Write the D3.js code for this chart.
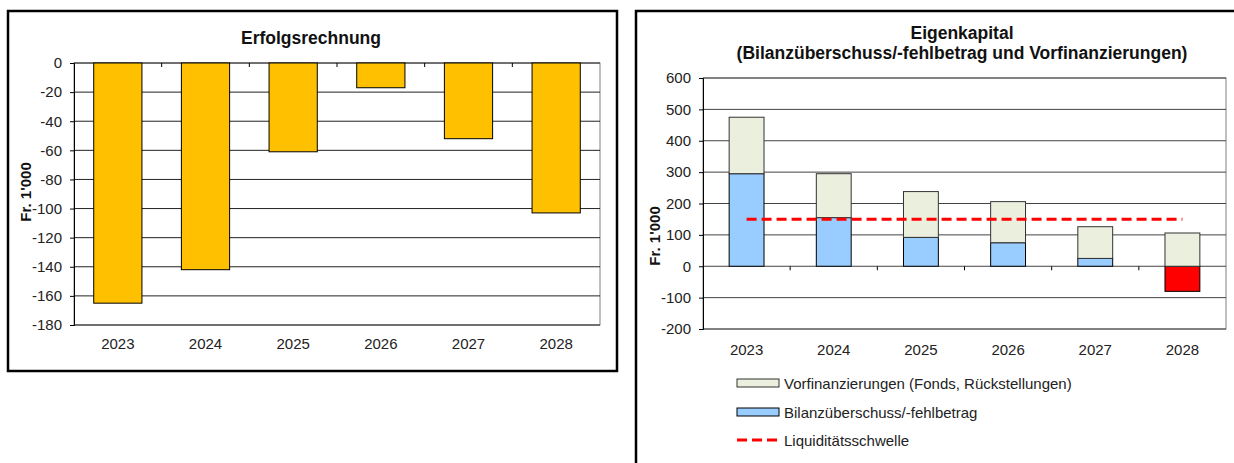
<!DOCTYPE html>
<html><head><meta charset="utf-8">
<script src="https://cdn.jsdelivr.net/npm/d3@7"></script>
<style>body{margin:0;background:#fff;} svg{display:block;font-family:"Liberation Sans",Arial,sans-serif;}</style>
</head><body>
<svg id="c" width="1234" height="463"></svg>
<script>
const years = ["2023","2024","2025","2026","2027","2028"];
const erfolg = [-165,-142,-61,-17,-52,-103];
const erfolgTicks = [0,-20,-40,-60,-80,-100,-120,-140,-160,-180];
const bilanz = [295,155,92,75,25,-80];
const vorfin = [180,140,146,131,101,106];
const schwelle = [150,150,150,150,150,150];
const ekTicks = [600,500,400,300,200,100,0,-100,-200];
const legendLabels = ["Vorfinanzierungen (Fonds, Rückstellungen)","Bilanzüberschuss/-fehlbetrag","Liquiditätsschwelle"];

const svg = d3.select("#c");
const FS = 15, TFS = 17.5;
const fmt = d => String(d);

svg.append("rect").attr("x",8).attr("y",11).attr("width",609).attr("height",360)
  .attr("fill","none").attr("stroke","#000").attr("stroke-width",2.5);
svg.append("rect").attr("x",636).attr("y",11).attr("width",700).attr("height",500)
  .attr("fill","none").attr("stroke","#000").attr("stroke-width",2.5);

// ---------- Left chart ----------
{
  const L=74,R=600,T=63,B=325;
  const x = d3.scaleBand().domain(years).range([L,R]).paddingInner(0.45).paddingOuter(0.225);
  const y = d3.scaleLinear().domain([0,-180]).range([T,B]);
  const g = svg.append("g");
  g.append("rect").attr("x",L).attr("y",T).attr("width",R-L).attr("height",B-T).attr("fill","none").attr("stroke","#808080");
  g.selectAll("line.grid").data(erfolgTicks).join("line").attr("x1",L).attr("x2",R)
    .attr("y1",d=>y(d)).attr("y2",d=>y(d)).attr("stroke","#222").attr("stroke-width",1);
  g.selectAll("rect.bar").data(erfolg).join("rect")
    .attr("x",(d,i)=>x(years[i])).attr("width",x.bandwidth())
    .attr("y",y(0)).attr("height",d=>y(d)-y(0))
    .attr("fill","#FFC000").attr("stroke","#000").attr("stroke-width",1);
  const ya = d3.axisLeft(y).tickValues(erfolgTicks).tickFormat(fmt).tickSize(4).tickPadding(8);
  const yg = g.append("g").attr("transform",`translate(${L},0)`).call(ya);
  yg.select(".domain").attr("stroke","#000");
  yg.selectAll("text").attr("font-size",FS).attr("fill","#222").attr("font-family","Liberation Sans, Arial, sans-serif");
  const step = x.step();
  g.selectAll("line.ct").data(d3.range(1,6)).join("line")
    .attr("x1",d=>L+d*step).attr("x2",d=>L+d*step).attr("y1",y(0)).attr("y2",y(0)+4).attr("stroke","#000");
  g.selectAll("text.xl").data(years).join("text")
    .attr("x",d=>x(d)+x.bandwidth()/2).attr("y",349).attr("text-anchor","middle")
    .attr("font-size",FS).attr("fill","#222").text(d=>d);
  g.append("text").attr("x",311).attr("y",44).attr("text-anchor","middle")
    .attr("font-size",TFS).attr("font-weight","bold").attr("fill","#111").text("Erfolgsrechnung");
  g.append("text").attr("transform",`translate(31,${192}) rotate(-90)`).attr("text-anchor","middle")
    .attr("font-size",FS).attr("font-weight","bold").attr("fill","#111").text("Fr. 1'000");
}

// ---------- Right chart ----------
{
  const L=703,R=1226,T=78,B=329;
  const x = d3.scaleBand().domain(years).range([L,R]).paddingInner(0.6).paddingOuter(0.3);
  const y = d3.scaleLinear().domain([600,-200]).range([T,B]);
  const g = svg.append("g");
  g.append("rect").attr("x",L).attr("y",T).attr("width",R-L).attr("height",B-T).attr("fill","none").attr("stroke","#808080");
  g.selectAll("line.grid").data(ekTicks).join("line").attr("x1",L).attr("x2",R)
    .attr("y1",d=>y(d)).attr("y2",d=>y(d)).attr("stroke","#444").attr("stroke-width",1);
  g.selectAll("rect.bil").data(bilanz).join("rect")
    .attr("x",(d,i)=>x(years[i])).attr("width",x.bandwidth())
    .attr("y",d=>y(Math.max(0,d))).attr("height",d=>Math.abs(y(d)-y(0)))
    .attr("fill",d=>d<0?"#FF0000":"#99CCFF").attr("stroke","#000").attr("stroke-width",1);
  g.selectAll("rect.vf").data(vorfin).join("rect")
    .attr("x",(d,i)=>x(years[i])).attr("width",x.bandwidth())
    .attr("y",(d,i)=>y(Math.max(0,bilanz[i])+d)).attr("height",(d,i)=>y(Math.max(0,bilanz[i]))-y(Math.max(0,bilanz[i])+d))
    .attr("fill","#EBEFDE").attr("stroke","#333").attr("stroke-width",1);
  const line = d3.line().x((d,i)=>x(years[i])+x.bandwidth()/2).y(d=>y(d));
  g.append("path").attr("d",line(schwelle)).attr("fill","none").attr("stroke","#FF0000")
    .attr("stroke-width",3).attr("stroke-dasharray","10,5");
  const ya = d3.axisLeft(y).tickValues(ekTicks).tickFormat(fmt).tickSize(4).tickPadding(8);
  const yg = g.append("g").attr("transform",`translate(${L},0)`).call(ya);
  yg.select(".domain").attr("stroke","#000");
  yg.selectAll("text").attr("font-size",FS).attr("fill","#222").attr("font-family","Liberation Sans, Arial, sans-serif");
  const step = x.step();
  g.selectAll("line.ct").data(d3.range(1,6)).join("line")
    .attr("x1",d=>L+d*step).attr("x2",d=>L+d*step).attr("y1",y(0)).attr("y2",y(0)+4).attr("stroke","#000");
  g.selectAll("text.xl").data(years).join("text")
    .attr("x",d=>x(d)+x.bandwidth()/2).attr("y",355).attr("text-anchor","middle")
    .attr("font-size",FS).attr("fill","#222").text(d=>d);
  g.append("text").attr("x",962).attr("y",39).attr("text-anchor","middle")
    .attr("font-size",TFS).attr("font-weight","bold").attr("fill","#111").text("Eigenkapital");
  g.append("text").attr("x",962).attr("y",59).attr("text-anchor","middle")
    .attr("font-size",TFS).attr("font-weight","bold").attr("fill","#111").text("(Bilanzüberschuss/-fehlbetrag und Vorfinanzierungen)");
  g.append("text").attr("transform",`translate(660,${236}) rotate(-90)`).attr("text-anchor","middle")
    .attr("font-size",FS).attr("font-weight","bold").attr("fill","#111").text("Fr. 1'000");
  const ly=[383,412,440];
  g.append("rect").attr("x",737).attr("y",ly[0]-4).attr("width",42).attr("height",8).attr("fill","#EBEFDE").attr("stroke","#333");
  g.append("rect").attr("x",737).attr("y",ly[1]-4).attr("width",42).attr("height",8).attr("fill","#99CCFF").attr("stroke","#000");
  g.append("line").attr("x1",737).attr("x2",777).attr("y1",ly[2]).attr("y2",ly[2]).attr("stroke","#FF0000").attr("stroke-width",3).attr("stroke-dasharray","10,5");
  g.selectAll("text.lg").data(legendLabels).join("text").attr("x",784).attr("y",(d,i)=>ly[i]+5.5)
    .attr("font-size",FS).attr("fill","#222").text(d=>d);
}
</script>
</body></html>
